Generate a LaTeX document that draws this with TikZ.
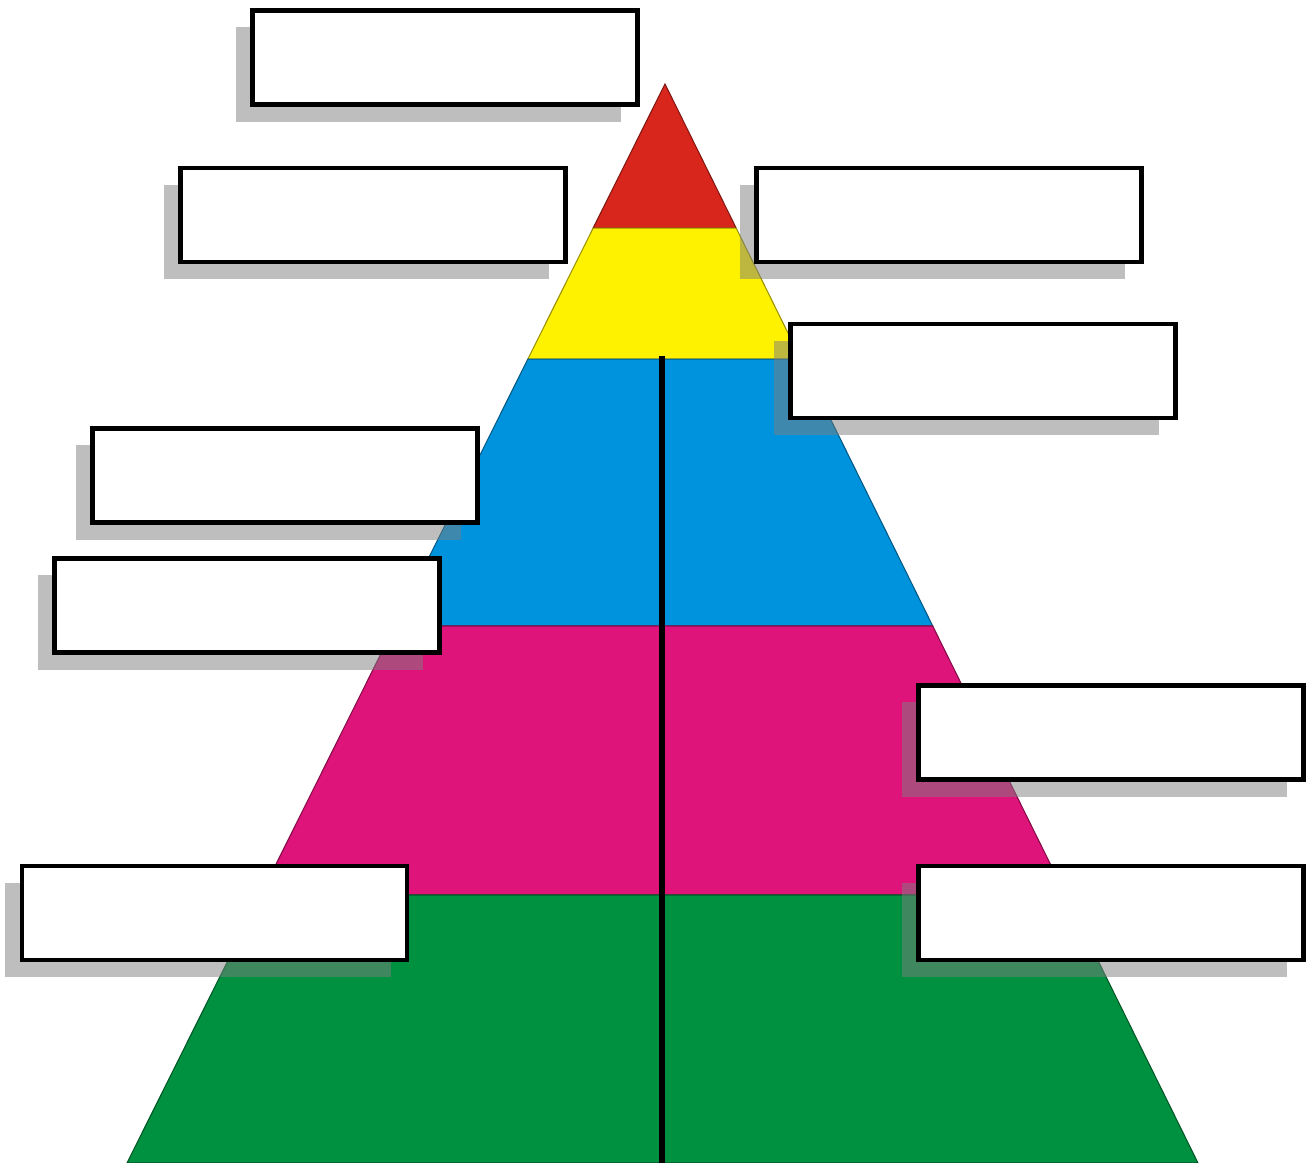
\documentclass[tikz,border=0pt]{standalone}
\usepackage{xcolor}
\usepackage{tikz}
\usetikzlibrary{calc, shadows}
\definecolor{tierRed}{HTML}{D9261C}
\definecolor{tierYellow}{HTML}{FFF200}
\definecolor{tierBlue}{HTML}{0093DD}
\definecolor{tierPink}{HTML}{DE147A}
\definecolor{tierGreen}{HTML}{009140}
\definecolor{shadowGray}{HTML}{7E7E7E}
\tikzset{
    labelbox/.style={draw=black, fill=white, line width=1.3pt, inner sep=0pt,
        minimum width=3.85cm, minimum height=0.94cm,
        drop shadow={shadow xshift=-0.165cm, shadow yshift=-0.17cm,
            fill=shadowGray, opacity=0.5}}
}

\begin{document}
\begin{tikzpicture}[x=0.01cm, y=-0.01cm]
    \useasboundingbox (0,0) rectangle (1311,1163);
    \coordinate (apex) at (665,84);
    \coordinate (bl) at (127,1163);
    \coordinate (br) at (1198,1163);
    % tiers of the pyramid, top to bottom
    \foreach \a/\b/\col in {0/0.1335/tierRed, 0.1335/0.2549/tierYellow,
            0.2549/0.5023/tierBlue, 0.5023/0.7516/tierPink, 0.7516/1/tierGreen}
        \filldraw[fill=\col, draw=\col!60!black, line width=0.3pt]
            ($(apex)!\a!(bl)$) -- ($(apex)!\b!(bl)$) -- ($(apex)!\b!(br)$)
            -- ($(apex)!\a!(br)$) -- cycle;
    \coordinate (axtop) at (662,356);
    \coordinate (axbot) at (662,1163);
    \draw[line width=1.45pt] (axtop) -- (axbot);
    % empty label boxes
    \node[labelbox] (top) at (445,57.5) {};
    \node[labelbox] (left1) at (373,215) {};
    \node[labelbox] (right1) at (949,215) {};
    \node[labelbox] (right2) at (983,371) {};
    \node[labelbox] (left2) at (285,475.5) {};
    \node[labelbox] (left3) at (247,605.5) {};
    \node[labelbox] (right3) at (1111,732.5) {};
    \node[labelbox] (left4) at (214.5,913) {};
    \node[labelbox] (right4) at (1111,913) {};
\end{tikzpicture}
\end{document}
